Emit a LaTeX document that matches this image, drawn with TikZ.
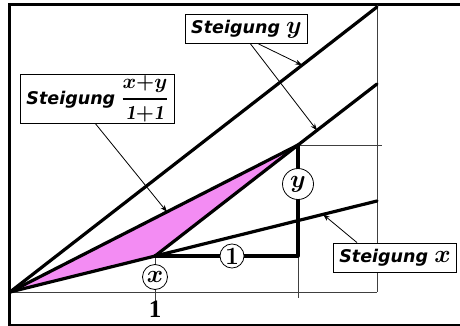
\documentclass[tikz,border=0pt]{standalone}
\usepackage{amsmath}
\usepackage{fontspec}
\newfontfamily\lblfont{DejaVu Sans}
\newfontfamily\varfont{Liberation Serif}
\newcommand\mvar[1]{{\boldmath$#1$}}
\usetikzlibrary{arrows.meta, positioning, calc}
\definecolor{fillpink}{RGB}{243,140,243}

\begin{document}
\begin{tikzpicture}[
    x=1pt, y=-1pt,
    thickline/.style={line width=3.2pt, line cap=round, line join=round},
    thinline/.style={line width=0.9pt, black!75},
    labelbox/.style={draw, line width=0.8pt, fill=white, inner xsep=6pt, inner ysep=2pt, minimum height=29pt, font=\lblfont\bfseries\itshape\fontsize{17.5}{20}\selectfont},
    marker/.style={draw, circle, line width=0.8pt, fill=white, inner sep=1pt, minimum size=25pt, font=\fontsize{24}{26}\selectfont},
    arrow/.style={-{Stealth[length=7pt, width=5pt]}, line width=0.8pt}
]
    \useasboundingbox (0,0) rectangle (460,326);
    \draw[line width=3pt] (9,5) rectangle (463,325);

    % points of the step
    \coordinate (O) at (10,292);
    \coordinate (xpt) at (155,256);
    \coordinate (corner) at (298,256);
    \coordinate (top) at (298,145);
    \coordinate (yend) at (377,7);
    \coordinate (yend2) at (377,84);
    \coordinate (xend) at (377,201);

    % thin frame lines
    \draw[thinline] (O) -- (377,292);
    \draw[thinline] (377,5) -- (377,292);
    \draw[thinline] (top) -- (382,145);
    \draw[thinline] (corner) -- (298,298);
    \coordinate (tick1) at (155,301);
    \draw[thinline] (xpt) -- (tick1);
    \node[below=0pt of tick1, inner sep=0pt, font=\varfont\bfseries\fontsize{25}{26}\selectfont] (one) {1};

    \fill[fillpink] (O) -- (xpt) -- (top) -- cycle;
    \draw[thickline] (O) -- (yend);
    \draw[thickline] (O) -- (xend);
    \draw[thickline] (O) -- (top) -- (yend2);
    \draw[thickline] (xpt) -- (top);
    \draw[thickline] (xpt) -- (corner) -- (top);

    \node[marker] (mx) at (155,277) {\mvar{x}};
    \node[marker, minimum size=22pt] (m1) at (232,256) {\mvar{\mathbf{1}}};
    \node[marker, minimum size=31pt] (my) at (298,184) {\mvar{y}};

    \node[labelbox] (sy) at (246.5,29) {Steigung {\fontsize{23}{24}\selectfont\mvar{y}}};
    \node[labelbox, minimum height=42pt, inner ysep=1pt] (sxy) at (97.5,99) {Steigung {\fontsize{20}{20}\selectfont\boldmath$\genfrac{}{}{1.4pt}{0}{x{+}y}{\mathit{1}{+}\mathit{1}}$}};
    \node[labelbox] (sx) at (395,257.5) {Steigung {\fontsize{23}{24}\selectfont\mvar{x}}};

    \draw[arrow] ($(sy.south)+(12,0)$) -- ($(O)!0.796!(yend)$);
    \draw[arrow] ($(sy.south)+(4,0)$) -- ($(xpt)!0.73!(yend2)$);
    \draw[arrow] ($(sxy.south)+(-2,0)$) -- ($(O)!0.545!(top)$);
    \draw[arrow] ($(sx.north)+(-38,0)$) -- ($(O)!0.853!(xend)$);
\end{tikzpicture}
\end{document}
